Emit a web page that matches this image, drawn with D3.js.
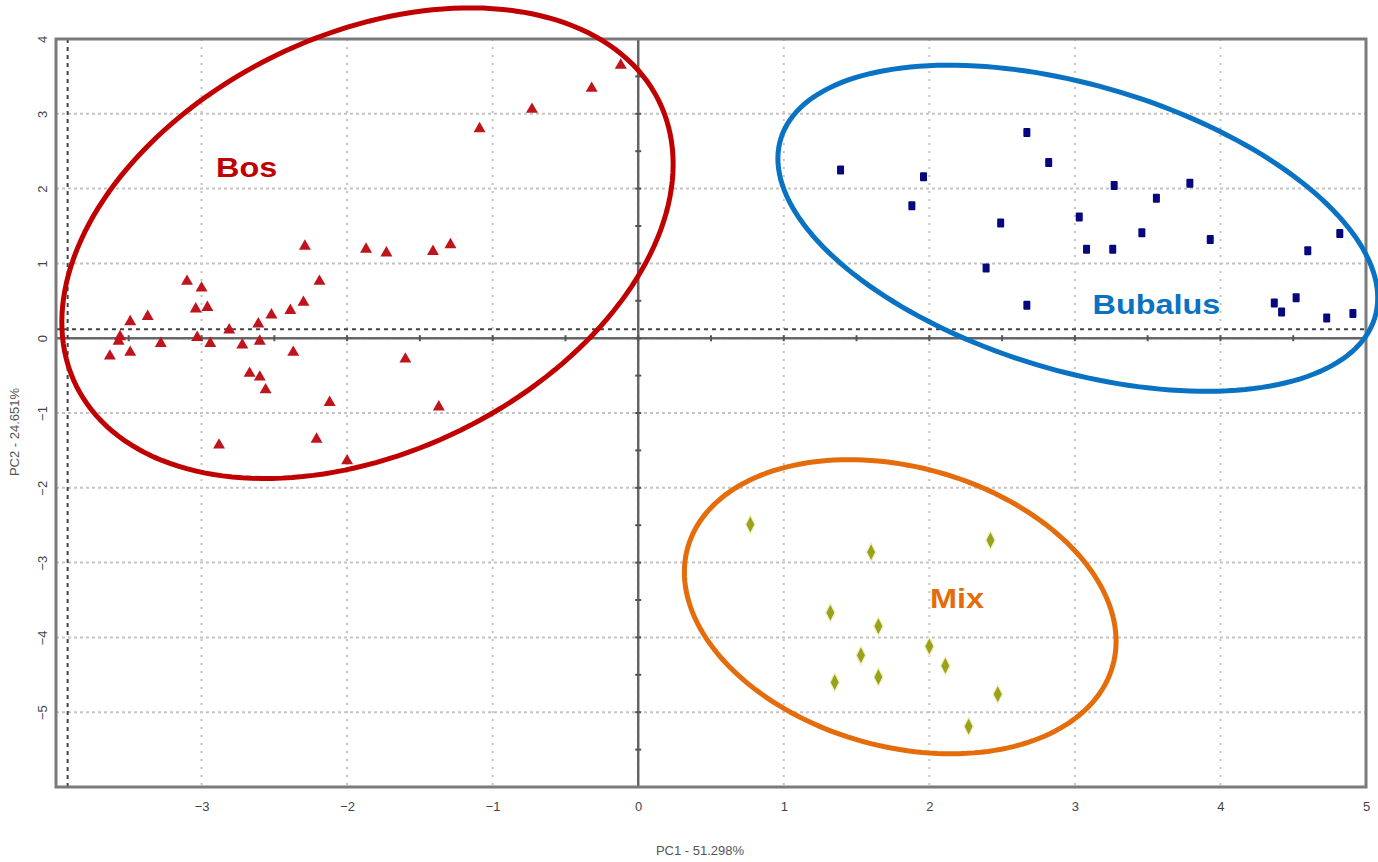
<!DOCTYPE html>
<html>
<head>
<meta charset="utf-8">
<script src="https://cdn.jsdelivr.net/npm/d3@7"></script>
<style>
  body { margin: 0; background: #fff; }
  svg { display: block; }
</style>
</head>
<body>
<div id="chart"></div>
<script>
// PCA scores: [PC1, PC2]
var bosPoints = [
  [-2.29, 1.23], [-3.10, 0.76], [-3.00, 0.67], [-2.19, 0.76], [-3.04, 0.39],
  [-2.96, 0.41], [-2.30, 0.48], [-2.39, 0.37], [-2.52, 0.31], [-3.37, 0.29],
  [-3.49, 0.22], [-2.61, 0.19], [-2.81, 0.11], [-3.56, 0.02], [-3.57, -0.04],
  [-3.03, 0.01], [-2.94, -0.07], [-3.28, -0.07], [-2.72, -0.09], [-2.60, -0.04],
  [-3.63, -0.24], [-3.49, -0.19], [-2.37, -0.19], [-2.67, -0.47], [-2.60, -0.52],
  [-2.56, -0.69], [-2.12, -0.86], [-2.21, -1.35], [-2.88, -1.43], [-2.00, -1.64],
  [-1.87, 1.19], [-1.73, 1.14], [-1.41, 1.16], [-1.29, 1.25], [-1.60, -0.28],
  [-1.37, -0.92], [-1.09, 2.80], [-0.73, 3.06], [-0.32, 3.34], [-0.12, 3.65]
];
var bubalusPoints = [
  [1.39, 2.25], [1.96, 2.16], [1.88, 1.77], [2.67, 2.75], [2.82, 2.35],
  [2.49, 1.54], [2.39, 0.94], [2.67, 0.44], [3.27, 2.04], [3.79, 2.07],
  [3.56, 1.87], [3.03, 1.62], [3.08, 1.19], [3.26, 1.19], [3.46, 1.41],
  [3.93, 1.32], [4.82, 1.40], [4.60, 1.17], [4.37, 0.47], [4.42, 0.35],
  [4.52, 0.54], [4.73, 0.27], [4.91, 0.33]
];
var mixPoints = [
  [0.77, -2.49], [1.60, -2.86], [2.42, -2.70], [1.32, -3.67], [1.65, -3.85],
  [2.00, -4.12], [1.53, -4.24], [2.11, -4.38], [1.35, -4.60], [1.65, -4.53],
  [2.47, -4.76], [2.27, -5.19]
];

// group ellipses in data units: centre, major axis vector, minor axis vector
var ellipseNames = ["Bos", "Bubalus", "Mix"];
var ellipseCentres = [[-1.86, 1.27], [3.02, 1.47], [1.80, -3.59]];
var ellipseMajor = [[2.00, 1.91], [2.04, -1.20], [1.46, -0.79]];
var ellipseMinor = [[0.64, -2.50], [-0.29, -1.82], [-0.26, -1.80]];
var labelPos = [[-2.69, 2.29], [3.56, 0.46], [2.19, -3.47]];

var xTicks = [-3, -2, -1, 0, 1, 2, 3, 4, 5];
var yTicks = [-5, -4, -3, -2, -1, 0, 1, 2, 3, 4];
var meanLine = [-3.92, 0.12]; // dashed reference lines

var width = 1378, height = 862;
var x = d3.scaleLinear().domain([-4, 5]).range([56, 1366]);
var y = d3.scaleLinear().domain([-6, 4]).range([787, 39]);

var svg = d3.select("#chart").append("svg")
  .attr("width", width)
  .attr("height", height);

// grid
svg.append("g").selectAll("line")
  .data(d3.range(-3, 5))
  .enter().append("line")
  .attr("x1", function(d) { return x(d); })
  .attr("x2", function(d) { return x(d); })
  .attr("y1", y(4)).attr("y2", y(-6))
  .attr("stroke", "#c4c4c4").attr("stroke-width", 2)
  .attr("stroke-dasharray", "2,6");
svg.append("g").selectAll("line")
  .data(d3.range(-5, 4))
  .enter().append("line")
  .attr("x1", x(-4)).attr("x2", x(5))
  .attr("y1", function(d) { return y(d); })
  .attr("y2", function(d) { return y(d); })
  .attr("stroke", "#c4c4c4").attr("stroke-width", 2)
  .attr("stroke-dasharray", "3,3");

// zero axes with half-unit ticks
svg.append("line")
  .attr("x1", x(-4)).attr("x2", x(5)).attr("y1", y(0)).attr("y2", y(0))
  .attr("stroke", "#666").attr("stroke-width", 2.5);
svg.append("line")
  .attr("x1", x(0)).attr("x2", x(0)).attr("y1", y(4)).attr("y2", y(-6))
  .attr("stroke", "#666").attr("stroke-width", 2.5);
svg.append("g").selectAll("line")
  .data(d3.range(-4, 5.01, 0.5))
  .enter().append("line")
  .attr("x1", function(d) { return x(d); })
  .attr("x2", function(d) { return x(d); })
  .attr("y1", y(0) - 3).attr("y2", y(0) + 3)
  .attr("stroke", "#555").attr("stroke-width", 2);
svg.append("g").selectAll("line")
  .data(d3.range(-6, 4.01, 0.5))
  .enter().append("line")
  .attr("x1", x(0) - 3).attr("x2", x(0) + 3)
  .attr("y1", function(d) { return y(d); })
  .attr("y2", function(d) { return y(d); })
  .attr("stroke", "#555").attr("stroke-width", 2);

// dashed reference lines
svg.append("line")
  .attr("x1", x(-4)).attr("x2", x(5))
  .attr("y1", y(meanLine[1])).attr("y2", y(meanLine[1]))
  .attr("stroke", "#444").attr("stroke-width", 2).attr("stroke-dasharray", "4,4");
svg.append("line")
  .attr("x1", x(meanLine[0])).attr("x2", x(meanLine[0]))
  .attr("y1", y(4)).attr("y2", y(-6))
  .attr("stroke", "#444").attr("stroke-width", 2).attr("stroke-dasharray", "4,4");

// frame
svg.append("rect")
  .attr("x", x(-4)).attr("y", y(4))
  .attr("width", x(5) - x(-4)).attr("height", y(-6) - y(4))
  .attr("fill", "none").attr("stroke", "#7a7a7a").attr("stroke-width", 3);

// tick labels
var xAxis = svg.append("g")
  .attr("transform", "translate(0," + (y(-6) + 12) + ")")
  .call(d3.axisBottom(x).tickValues(xTicks).tickSize(0).tickFormat(d3.format("d")));
xAxis.select(".domain").remove();
xAxis.selectAll("text")
  .attr("font-family", "'Liberation Sans Narrow', 'Liberation Sans', sans-serif")
  .attr("font-size", 13).attr("fill", "#444");

var yAxis = svg.append("g")
  .attr("transform", "translate(" + (x(-4) - 9) + ",0)")
  .call(d3.axisLeft(y).tickValues(yTicks).tickSize(0).tickFormat(d3.format("d")));
yAxis.select(".domain").remove();
yAxis.selectAll("text")
  .attr("font-family", "'Liberation Sans Narrow', 'Liberation Sans', sans-serif")
  .attr("font-size", 13).attr("fill", "#444")
  .attr("x", 0).attr("dy", 0)
  .attr("text-anchor", "middle")
  .attr("transform", "rotate(-90)");

// axis titles
svg.append("text")
  .attr("x", 700).attr("y", 855)
  .attr("text-anchor", "middle")
  .attr("font-family", "'Liberation Sans Narrow', 'Liberation Sans', sans-serif")
  .attr("font-size", 13).attr("fill", "#555")
  .text("PC1 - 51.298%");
svg.append("text")
  .attr("transform", "translate(19,432) rotate(-90)")
  .attr("text-anchor", "middle")
  .attr("font-family", "'Liberation Sans', Arial, sans-serif")
  .attr("font-size", 13).attr("fill", "#555")
  .text("PC2 - 24.651%");

// markers
var triangle = d3.symbol().type(d3.symbolTriangle).size(62);
svg.append("g").selectAll("path")
  .data(bosPoints)
  .enter().append("path")
  .attr("d", triangle)
  .attr("transform", function(d) { return "translate(" + x(d[0]) + "," + y(d[1]) + ")"; })
  .attr("fill", "#c0141c");

svg.append("g").selectAll("rect")
  .data(bubalusPoints)
  .enter().append("rect")
  .attr("x", function(d) { return x(d[0]) - 3.5; })
  .attr("y", function(d) { return y(d[1]) - 4.5; })
  .attr("width", 7).attr("height", 9).attr("rx", 1)
  .attr("fill", "#06067e");

var diamond = d3.symbol().type(d3.symbolDiamond).size(70);
svg.append("g").selectAll("path")
  .data(mixPoints)
  .enter().append("path")
  .attr("d", diamond)
  .attr("transform", function(d) { return "translate(" + x(d[0]) + "," + y(d[1]) + ") scale(1.05,1.2)"; })
  .attr("fill", "#9aa11a")
  .attr("stroke", "#f1f0c6").attr("stroke-width", 1.2);

// ellipses
var groupColors = ["#c00000", "#0a72c2", "#e46c0a"];
var line = d3.line().curve(d3.curveLinearClosed);
var ts = d3.range(0, 2 * Math.PI, Math.PI / 90);
ellipseNames.forEach(function(name, i) {
  var c = ellipseCentres[i], u = ellipseMajor[i], v = ellipseMinor[i];
  var pts = ts.map(function(t) {
    return [x(c[0] + u[0] * Math.cos(t) + v[0] * Math.sin(t)),
            y(c[1] + u[1] * Math.cos(t) + v[1] * Math.sin(t))];
  });
  svg.append("path")
    .attr("d", line(pts))
    .attr("fill", "none")
    .attr("stroke", groupColors[i])
    .attr("stroke-width", 5);
  svg.append("text")
    .attr("transform", "translate(" + x(labelPos[i][0]) + "," + (y(labelPos[i][1]) + 10) + ") scale(1.2,1)")
    .attr("text-anchor", "middle")
    .attr("font-family", "'Liberation Sans', Arial, sans-serif")
    .attr("font-weight", "bold")
    .attr("font-size", 27)
    .attr("fill", groupColors[i])
    .text(name);
});
</script>
</body>
</html>
